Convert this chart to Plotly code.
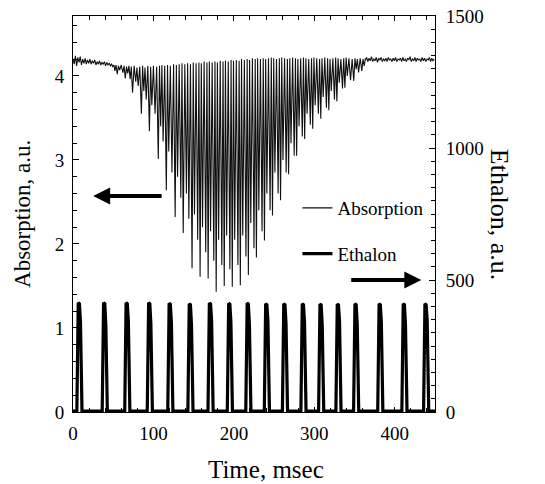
import numpy as np
import plotly.graph_objects as go

# ---------------- data ----------------
# flat, noisy absorption baseline before the band (0 .. ~51 ms, 1.5 ms samples)
pre_start, pre_step = 0.0, 1.5
pre_y = [4.20, 4.14, 4.24, 4.12, 4.22, 4.16, 4.23, 4.13, 4.20, 4.15, 4.21, 4.14,
         4.19, 4.15, 4.20, 4.14, 4.18, 4.15, 4.19, 4.13, 4.17, 4.14, 4.18, 4.13,
         4.16, 4.14, 4.17, 4.12, 4.16, 4.13, 4.15, 4.12, 4.14, 4.11, 4.13]

# absorption dips: time (ms), minimum value, following maximum value
dip_t = [52, 55, 58, 62, 65, 68, 71, 74, 78, 81, 85, 88, 91, 95, 98, 102, 106, 109,
         112, 116, 119, 123, 127, 130, 134, 137, 141, 144, 148, 151, 155, 158, 161,
         165, 168, 171, 175, 178, 181, 185, 188, 191, 195, 198, 201, 205, 208, 211,
         215, 218, 221, 225, 228, 231, 235, 238, 241, 245, 248, 251, 255, 258, 261,
         265, 268, 271, 275, 278, 281, 285, 288, 291, 295, 298, 301, 305, 308, 311,
         315, 318, 321, 325, 328, 331, 335, 338, 341, 345, 349, 352, 355, 359, 362]
dip_min = [4.06, 4.02, 4.07, 4.04, 3.97, 4.03, 3.96, 3.80, 3.93, 3.88, 3.55, 3.82,
           3.72, 3.34, 3.65, 3.55, 3.01, 3.40, 3.22, 2.64, 3.10, 2.85, 2.32, 2.80,
           2.55, 2.13, 2.60, 2.30, 1.71, 2.35, 2.05, 1.61, 2.20, 1.90, 1.59, 2.15,
           1.80, 1.43, 2.05, 1.75, 1.50, 2.10, 1.70, 1.49, 2.05, 1.75, 1.51, 2.10,
           1.85, 1.63, 2.25, 1.95, 1.84, 2.40, 2.15, 2.04, 2.60, 2.40, 2.34, 2.85,
           2.60, 2.52, 3.00, 2.85, 2.83, 3.20, 3.05, 3.05, 3.40, 3.28, 3.25, 3.55,
           3.42, 3.37, 3.65, 3.55, 3.49, 3.75, 3.62, 3.59, 3.82, 3.72, 3.70, 3.92,
           3.85, 3.86, 4.00, 3.95, 3.94, 4.08, 4.04, 4.06, 4.12]
dip_max = [4.13, 4.12, 4.13, 4.12, 4.11, 4.12, 4.11, 4.12, 4.10, 4.11, 4.12, 4.10,
           4.12, 4.11, 4.12, 4.11, 4.12, 4.13, 4.12, 4.13, 4.12, 4.14, 4.13, 4.14,
           4.15, 4.14, 4.15, 4.14, 4.16, 4.15, 4.16, 4.15, 4.17, 4.16, 4.17, 4.16,
           4.17, 4.16, 4.18, 4.17, 4.18, 4.17, 4.19, 4.18, 4.19, 4.18, 4.20, 4.19,
           4.20, 4.19, 4.21, 4.20, 4.21, 4.20, 4.21, 4.20, 4.21, 4.22, 4.21, 4.20,
           4.21, 4.22, 4.21, 4.20, 4.21, 4.22, 4.21, 4.20, 4.21, 4.22, 4.21, 4.20,
           4.21, 4.22, 4.21, 4.20, 4.21, 4.22, 4.21, 4.20, 4.21, 4.22, 4.21, 4.20,
           4.21, 4.22, 4.21, 4.20, 4.21, 4.20, 4.21, 4.20, 4.21]

# flat, noisy baseline after the band (~363.5 .. 450 ms, 1.5 ms samples)
post_start, post_step = 363.5, 1.5
post_y = [4.19, 4.22, 4.17, 4.21, 4.18, 4.23, 4.17, 4.20, 4.18, 4.22, 4.16, 4.21,
          4.19, 4.22, 4.17, 4.20, 4.18, 4.21, 4.17, 4.22, 4.19, 4.20, 4.17, 4.21,
          4.18, 4.22, 4.17, 4.20, 4.19, 4.21, 4.17, 4.22, 4.18, 4.20, 4.17, 4.21,
          4.19, 4.23, 4.17, 4.20, 4.18, 4.22, 4.17, 4.21, 4.19, 4.20, 4.17, 4.22,
          4.18, 4.21, 4.17, 4.20, 4.19, 4.22, 4.17, 4.21, 4.18, 4.20]

# ethalon pulses: centre time (ms), peak and shoulder heights (a.u., right axis)
pulse_t = [8, 39.5, 67.5, 95.5, 121, 146, 171, 195, 218, 241, 263.5, 286.5,
           308.5, 330, 352, 382, 412, 439]
pulse_peak = [414, 414, 414, 414, 412, 410, 413, 412, 413, 410, 410, 410,
              409, 409, 410, 410, 410, 410]
pulse_shoulder = [340, 330, 345, 335, 340, 330, 345, 340, 330, 345, 335, 340,
                  330, 345, 335, 340, 330, 345]

# ---------------- build the traces ----------------
abs_x, abs_y = [], []
for i, v in enumerate(pre_y):
    abs_x.append(pre_start + i * pre_step)
    abs_y.append(v)
for i, (t, lo, hi) in enumerate(zip(dip_t, dip_min, dip_max)):
    abs_x.append(t)
    abs_y.append(lo)
    nxt = dip_t[i + 1] if i + 1 < len(dip_t) else t + 3
    abs_x.append((t + nxt) / 2)
    abs_y.append(hi)
for i, v in enumerate(post_y):
    abs_x.append(post_start + i * post_step)
    abs_y.append(v)

eth_x, eth_y = [0.0], [3.0]
for c, pk, sh in zip(pulse_t, pulse_peak, pulse_shoulder):
    eth_x += [c - 3.2, c - 1.5, c, c + 1.3, c + 3.2]
    eth_y += [3.0, pk, pk - 4, sh, 3.0]
eth_x.append(450.0)
eth_y.append(3.0)

FONT = "Liberation Serif"

fig = go.Figure()
fig.add_trace(go.Scatter(x=abs_x, y=abs_y, mode="lines", name="Absorption",
                         line=dict(color="#111111", width=1.1), yaxis="y",
                         legendgroup="a"))
fig.add_trace(go.Scatter(x=eth_x, y=eth_y, mode="lines", name="Ethalon",
                         line=dict(color="black", width=3.2), yaxis="y2",
                         legendgroup="e"))

axis_common = dict(showline=True, linecolor="black", linewidth=1, ticks="inside",
                   tickcolor="black", showgrid=False, zeroline=False,
                   ticklabeloverflow="allow", automargin=False,
                   tickfont=dict(family=FONT, size=19, color="black"))

fig.update_layout(
    width=545, height=484,
    margin=dict(l=73, r=110, t=16, b=72),
    paper_bgcolor="white", plot_bgcolor="white",
    font=dict(family=FONT, size=19, color="black"),
    xaxis=dict(range=[0, 450], tickvals=[0, 100, 200, 300, 400], ticklen=5,
               mirror="ticks", ticklabelstandoff=4,
               minor=dict(dtick=20, ticks="inside", ticklen=4, tickcolor="black"),
               **axis_common),
    yaxis=dict(range=[0, 4.713], tickvals=[0, 1, 2, 3, 4], ticklen=6,
               ticklabelstandoff=4,
               minor=dict(dtick=0.2, ticks="inside", ticklen=4, tickcolor="black"),
               **axis_common),
    yaxis2=dict(range=[0, 1500], tickvals=[0, 500, 1000, 1500], ticklen=6,
                overlaying="y", side="right", ticklabelstandoff=6,
                minor=dict(dtick=50, ticks="inside", ticklen=4, tickcolor="black"),
                **axis_common),
    showlegend=True,
    legend=dict(x=0.62, y=0.563, xanchor="left", yanchor="top",
                bgcolor="rgba(0,0,0,0)", traceorder="grouped", tracegroupgap=18,
                font=dict(family=FONT, size=19, color="black")),
    annotations=[
        dict(text="Time, msec", xref="paper", yref="paper", x=0.533, y=-0.146,
             xanchor="center", yanchor="middle", showarrow=False,
             font=dict(family=FONT, size=25, color="black")),
        dict(text="Absorption, a.u.", xref="paper", yref="paper", x=-0.141, y=0.5,
             xanchor="center", yanchor="middle", showarrow=False, textangle=-90,
             font=dict(family=FONT, size=23, color="black")),
        dict(text="Ethalon, a.u.", xref="paper", yref="paper", x=1.18, y=0.5,
             xanchor="center", yanchor="middle", showarrow=False, textangle=90,
             font=dict(family=FONT, size=26, color="black")),
        dict(text="", x=25, y=2.57, xref="x", yref="y", ax=112, ay=2.57,
             axref="x", ayref="y", showarrow=True, arrowhead=2, arrowwidth=4,
             arrowsize=0.85, arrowcolor="black", standoff=0),
        dict(text="", x=433, y=500, xref="x", yref="y2", ax=344, ay=500,
             axref="x", ayref="y2", showarrow=True, arrowhead=2, arrowwidth=4,
             arrowsize=0.85, arrowcolor="black", standoff=0),
    ],
)

fig.write_html("out.html", config={"displayModeBar": False},
               post_script="document.body.style.margin='0';"
                           "document.body.style.overflow='hidden';")
